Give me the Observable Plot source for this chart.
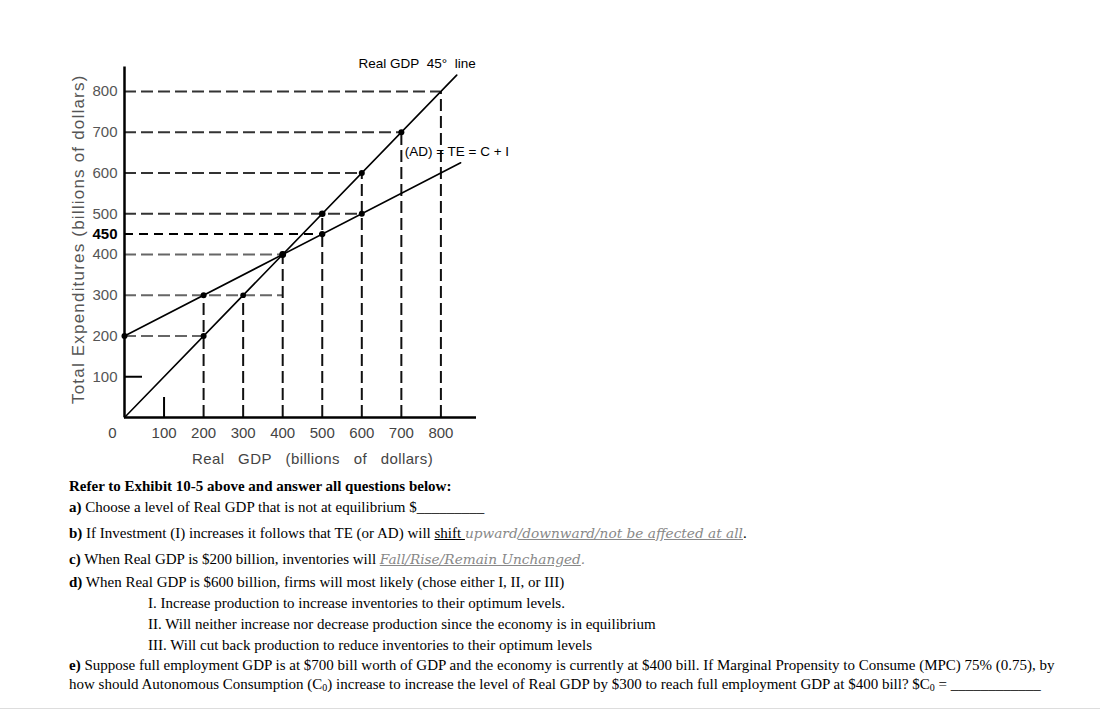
<!DOCTYPE html>
<html>
<head>
<meta charset="utf-8">
<script src="https://cdn.jsdelivr.net/npm/d3@7"></script>
<script src="https://cdn.jsdelivr.net/npm/@observablehq/plot@0.6"></script>
<style>
  html, body { margin: 0; padding: 0; background: #fff; }
  #wrap { position: relative; width: 1113px; height: 711px; overflow: hidden; }
  #chart { position: absolute; left: 0; top: 0; }
  .q { position: absolute; left: 69px; font-family: "Liberation Serif", "Times New Roman", serif; font-size: 15px; line-height: 18px; color: #000; white-space: nowrap; }
  .q.ind { left: 148px; }
  .g { font-family: "DejaVu Serif", Georgia, serif; font-style: italic; color: #888; font-size: 13.7px; }
  .g u { text-decoration-color: #888; }
  sub { font-size: 10px; vertical-align: -2px; line-height: 0; }
  #rule { position: absolute; left: 0; top: 708px; width: 1100px; height: 1px; background: #ddd; }
</style>
</head>
<body>
<div id="wrap">
  <div id="chart"></div>
  <div id="text"></div>
  <div id="rule"></div>
</div>
<script>
// ---- Data ----
const xTicks = [100, 200, 300, 400, 500, 600, 700, 800];
const yTicks = [100, 200, 300, 400, 500, 600, 700, 800];
const yTickHighlight = [450];
const line45 = [{x: 0, y: 0}, {x: 840, y: 840}];           // Real GDP 45° line
const teLine = [{x: 0, y: 200}, {x: 850, y: 625}];         // TE = C + I
const dots45 = [{x: 200, y: 200}, {x: 300, y: 300}, {x: 400, y: 400}, {x: 500, y: 500}, {x: 600, y: 600}, {x: 700, y: 700}];
const dotsTE = [{x: 0, y: 200}, {x: 200, y: 300}, {x: 400, y: 400}, {x: 500, y: 450}, {x: 600, y: 500}];
const hGuides = [{y: 800, x: 800}, {y: 700, x: 700}, {y: 600, x: 600}, {y: 500, x: 600}, {y: 400, x: 400}, {y: 300, x: 400}, {y: 200, x: 200}];
const hGuide450 = [{y: 450, x: 500}];
const vGuides = [{x: 200, y: 300}, {x: 300, y: 300}, {x: 400, y: 400}, {x: 500, y: 500}, {x: 600, y: 600}, {x: 700, y: 700}, {x: 800, y: 800}];
const minorX = [100];
const minorY = [100];
const sp = n => "\u00a0".repeat(n);
const xTitle = "Real" + sp(3) + "GDP" + sp(3) + "(billions" + sp(3) + "of" + sp(3) + "dollars)";
const yTitle = "Total Expenditures (billions of dollars)";
const label45 = "Real GDP" + sp(2) + "45°" + sp(2) + "line";
const labelTE = "(AD) = TE = C + I";

const questionLines = [
  {cls: "", html: "<b>Refer to Exhibit 10-5 above and answer all questions below:</b>"},
  {cls: "", html: "<b>a)</b> Choose a level of Real GDP that is not at equilibrium $_________"},
  {cls: "", html: "<b>b)</b> If Investment (I) increases it follows that TE (or AD) will <u>shift </u><span class=\"g\">upward<u>/downward/not be affected at all</u></span>."},
  {cls: "", html: "<b>c)</b> When Real GDP is $200 billion, inventories will <span class=\"g\"><u>Fall/Rise/Remain Unchanged</u>.</span>"},
  {cls: "", html: "<b>d)</b> When Real GDP is $600 billion, firms will most likely (chose either I, II, or III)"},
  {cls: "ind", html: "I. Increase production to increase inventories to their optimum levels."},
  {cls: "ind", html: "II. Will neither increase nor decrease production since the economy is in equilibrium"},
  {cls: "ind", html: "III. Will cut back production to reduce inventories to their optimum levels"},
  {cls: "", html: "<b>e)</b> Suppose full employment GDP is at $700 bill worth of GDP and the economy is currently at $400 bill. If Marginal Propensity to Consume (MPC) 75% (0.75), by"},
  {cls: "", html: "how should Autonomous Consumption (C<sub>0</sub>) increase to increase the level of Real GDP by $300 to reach full employment GDP at $400 bill? $C<sub>0</sub> = ____________"}
];
const lineTops = [477, 498, 524, 550, 573, 594, 615, 636, 656, 675];

// ---- Chart ----
const chart = Plot.plot({
  width: 1113,
  height: 475,
  marginLeft: 124,
  marginRight: 637,
  marginTop: 66.5,
  marginBottom: 58,
  x: {domain: [0, 890], axis: null},
  y: {domain: [0, 860], axis: null},
  style: {fontFamily: "'Liberation Sans', Arial, sans-serif", background: "white", overflow: "visible"},
  marks: [
    // dashed guides
    Plot.ruleY(hGuides, {y: "y", x1: 0, x2: "x", stroke: d => d.y >= 500 ? "#333" : "#666", strokeWidth: 2, strokeDasharray: "12,5"}),
    Plot.ruleY(hGuide450, {y: "y", x1: 0, x2: "x", stroke: "#000", strokeWidth: 2, strokeDasharray: "9,6"}),
    Plot.ruleX(vGuides, {x: "x", y1: 0, y2: "y", stroke: "#111", strokeWidth: 2, strokeDasharray: "12,5"}),
    // axes
    Plot.ruleX([0], {stroke: "#000", strokeWidth: 2.5}),
    Plot.ruleY([0], {stroke: "#000", strokeWidth: 2.5}),
    Plot.axisY(minorY, {anchor: "left", tickSize: -18, text: null, label: null, stroke: "#000", strokeWidth: 2}),
    Plot.axisX(minorX, {anchor: "bottom", tickSize: -20, text: null, label: null, stroke: "#000", strokeWidth: 2}),
    // lines
    Plot.line(line45, {x: "x", y: "y", stroke: "#000", strokeWidth: 1.6}),
    Plot.line(teLine, {x: "x", y: "y", stroke: "#000", strokeWidth: 1.6}),
    // dots
    Plot.dot(dots45, {x: "x", y: "y", fill: "#000", r: d => d.x === 400 ? 6.5 : d.x === 500 ? 6 : d.x === 300 ? 4.5 : 5}),
    Plot.dot(dotsTE, {x: "x", y: "y", fill: "#000", r: d => d.x === 500 ? 5.5 : 5}),
    // tick labels
    Plot.text(yTicks, {x: 0, y: d => d, text: d => String(d), textAnchor: "end", dx: -7, fill: "#555", fontSize: 15}),
    Plot.text(yTickHighlight, {x: 0, y: d => d, text: d => String(d), textAnchor: "end", dx: -7, fill: "#000", fontSize: 15, fontWeight: "bold"}),
    Plot.text(xTicks, {x: d => d, y: 0, text: d => String(d), dy: 16, fill: "#444", fontSize: 15}),
    Plot.text([0], {x: 0, y: 0, text: d => String(d), dx: -12, dy: 16, fill: "#444", fontSize: 15}),
    // titles
    Plot.text([xTitle], {frameAnchor: "bottom", textAnchor: "middle", text: d => d, dx: 12, dy: 46, fill: "#444", fontSize: 15}),
    Plot.text([yTitle], {frameAnchor: "left", textAnchor: "middle", text: d => d, rotate: -90, dx: -46, dy: -3, fill: "#555", fontSize: 17}),
    // annotations
    Plot.text([line45[1]], {x: "x", y: "y", text: () => label45, textAnchor: "end", dx: 19, dy: -11, fill: "#000", fontSize: 13.5}),
    Plot.text([teLine[1]], {x: "x", y: "y", text: () => labelTE, textAnchor: "start", dx: -56, dy: -11, fill: "#000", fontSize: 13.5})
  ]
});
d3.select(chart).selectAll("text")
  .filter(function() { return this.textContent === xTitle; })
  .attr("letter-spacing", "0.4px").style("letter-spacing", "0.4px");
d3.select(chart).selectAll("text")
  .filter(function() { return this.textContent === yTitle; })
  .attr("letter-spacing", "1.2px").style("letter-spacing", "1.2px");
document.getElementById("chart").appendChild(chart);

const textDiv = document.getElementById("text");
questionLines.forEach((l, i) => {
  const d = document.createElement("div");
  d.className = "q " + l.cls;
  d.style.top = lineTops[i] + "px";
  d.innerHTML = l.html;
  textDiv.appendChild(d);
});
</script>
</body>
</html>
